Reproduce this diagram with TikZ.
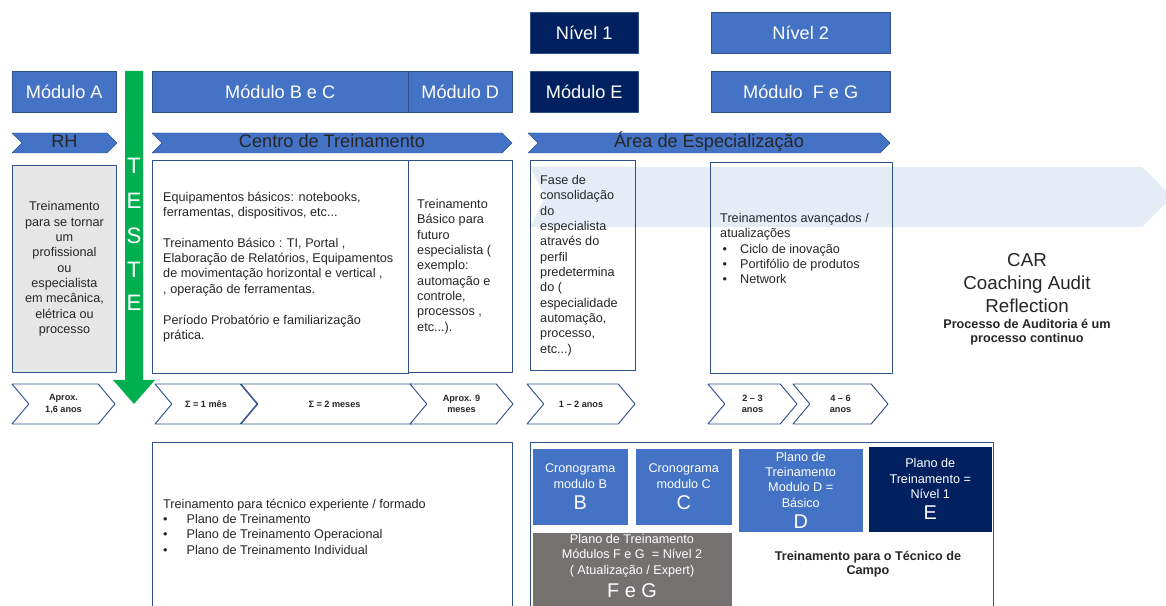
\documentclass[tikz,border=0pt]{standalone}
\usepackage{fontspec}
\setmainfont{Liberation Sans}
\usetikzlibrary{shapes.symbols}
\definecolor{blueA}{HTML}{4472C4}
\definecolor{navy}{HTML}{002060}
\definecolor{bordc}{HTML}{2F528F}
\definecolor{testegreen}{HTML}{00B050}
\definecolor{lgray}{HTML}{E7E6E6}
\definecolor{dgray}{HTML}{767171}
\definecolor{bandc}{HTML}{E6ECF6}
\definecolor{txtc}{HTML}{262626}
\newcommand\bodyfont{\fontsize{10.8}{13.1}\selectfont}
\newcommand\hdrfont{\fontsize{15.5}{18}\selectfont}
\newcommand\tinybold{\bfseries\fontsize{7.8}{9.6}\selectfont}
\newcommand\bigletter{\fontsize{17}{17}\selectfont}
\begin{document}
\begin{tikzpicture}[x=0.3mm,y=-0.3mm,line join=round,
	lvl/.style={draw=bordc,fill=blueA,text=white,font=\hdrfont,inner sep=0pt,anchor=north west,minimum height=41*\pxu},
	bandone/.style={shape=signal,signal from=west,signal to=east,signal pointer angle=90,draw=bordc,fill=blueA,text=txtc,font=\hdrfont,text height=11pt,text depth=3pt,inner sep=0pt,minimum height=20*\pxu},
	bandtwo/.style={shape=signal,signal from=west,signal to=east,signal pointer angle=100,draw=bordc,line width=0.8pt,fill=white,text=txtc,font=\tinybold,align=center,inner sep=0pt,minimum height=40*\pxu},
	cbox/.style={draw=bordc,line width=0.8pt,inner sep=0pt,anchor=north west},
	txt/.style={font=\bodyfont,text=txtc,align=left,inner sep=0pt},
	sub/.style={draw=white,fill=blueA,text=white,font=\bodyfont,align=center,inner sep=0pt,anchor=north west},
	teste/.style={text=white,font=\fontsize{19}{19}\selectfont,inner sep=0pt}]
	\def \pxu{0.3mm}
	\useasboundingbox (0,0) rectangle (1166,606);
	\clip (0,0) rectangle (1166,606);
	\fill[white] (0,0) rectangle (1166,606);
	% niveis e modulos
	\node[lvl,fill=navy,minimum width=108*\pxu] (niv1) at (530,12) {Nível 1};
	\node[lvl,minimum width=179*\pxu] (niv2) at (711,12) {Nível 2};
	\node[lvl,minimum width=104*\pxu] (modA) at (12,71) {Módulo A};
	\node[lvl,minimum width=256*\pxu] (modBC) at (152,71) {Módulo B e C};
	\node[lvl,minimum width=104*\pxu] (modD) at (408,71) {Módulo D};
	\node[lvl,fill=navy,minimum width=108*\pxu] (modE) at (530,71) {Módulo E};
	\node[lvl,minimum width=179*\pxu] (modFG) at (711,71) {Módulo~~F e G};
	% faixas
	\node[bandone,minimum width=105*\pxu] (rh) at (64.5,143) {RH};
	\node[bandone,minimum width=360*\pxu] (centro) at (332,143) {Centro de Treinamento};
	\node[bandone,minimum width=362*\pxu] (area) at (709,143) {Área de Especialização};
	% seta clara
	\fill[bandc] (530,167) -- (1142,167) -- (1172,197) -- (1142,227) -- (530,227) -- (545,197) -- cycle;
	% caixas de conteudo
	\node[cbox,fill=lgray,minimum width=104*\pxu,minimum height=207*\pxu,font=\bodyfont,text=txtc,align=center] (boxA) at (12,165) {Treinamento\\para se tornar\\um\\profissional\\ou\\especialista\\em mecânica,\\elétrica ou\\processo};
	\node[cbox,fill=white,minimum width=256*\pxu,minimum height=213*\pxu] (boxBC) at (152,160) {};
	\node[txt,anchor=west] (boxBCtxt) at ([xshift=11*\pxu]boxBC.west) {Equipamentos básicos: notebooks,\\ferramentas, dispositivos, etc...\\[13.1pt]Treinamento Básico : TI, Portal ,\\Elaboração de Relatórios, Equipamentos\\de movimentação horizontal e vertical ,\\, operação de ferramentas.\\[13.1pt]Período Probatório e familiarização\\prática.};
	\node[cbox,fill=white,minimum width=104*\pxu,minimum height=212*\pxu] (boxD) at (408,160) {};
	\node[txt,anchor=west] (boxDtxt) at ([xshift=9*\pxu]boxD.west) {Treinamento\\Básico para\\futuro\\especialista (\\exemplo:\\automação e\\controle,\\processos ,\\etc...).};
	\node[cbox,minimum width=105*\pxu,minimum height=210*\pxu] (boxE) at (530,160) {};
	\node[txt,anchor=west] (boxEtxt) at ([xshift=10*\pxu]boxE.west) {Fase de\\consolidação\\do\\especialista\\através do\\perfil\\predetermina\\do (\\especialidade\\automação,\\processo,\\etc...)};
	\node[cbox,minimum width=182*\pxu,minimum height=211*\pxu] (boxFG) at (710,162) {};
	\node[txt,anchor=north west] (boxFGtxt) at (720,213) {Treinamentos avançados /\\atualizações\\\hspace*{2pt}\makebox[15pt][l]{•}Ciclo de inovação\\\hspace*{2pt}\makebox[15pt][l]{•}Portifólio de produtos\\\hspace*{2pt}\makebox[15pt][l]{•}Network};
	% CAR
	\node[font=\fontsize{16}{19.5}\selectfont,text=txtc,align=center,inner sep=0pt] (car) at (1027,283) {CAR\\Coaching Audit\\Reflection};
	\node[font=\bfseries\fontsize{10.8}{12}\selectfont,text=txtc,align=center,inner sep=0pt] (audit) at (1027,332) {Processo de Auditoria é um\\processo continuo};
	% tempos
	\node[bandtwo,minimum width=103*\pxu] (t16) at (63.5,404) {Aprox.\\1,6 anos};
	\node[bandtwo,minimum width=102*\pxu] (t1m) at (206,404) {Σ = 1 mês};
	\node[bandtwo,minimum width=187*\pxu] (t2m) at (334.5,404) {Σ = 2 meses};
	\node[bandtwo,minimum width=103*\pxu] (t9m) at (461.5,404) {Aprox. 9\\meses};
	\node[bandtwo,minimum width=108*\pxu] (t12) at (581,404) {1 – 2 anos};
	\node[bandtwo,minimum width=89*\pxu] (t23) at (752.5,404) {2 – 3\\anos};
	\node[bandtwo,minimum width=95*\pxu] (t46) at (840.5,404) {4 – 6\\anos};
	% TESTE
	\fill[testegreen] (125,71) -- (143,71) -- (143,380) -- (155,380) -- (134,404) -- (113,380) -- (125,380) -- cycle;
	\foreach \l/\yy [count=\i] in {T/166,E/201,S/236,T/270,E/303}
		\node[teste] (teste\i) at (134,\yy) {\l};
	% planos
	\node[cbox,fill=white,minimum width=360*\pxu,minimum height=168*\pxu] (boxTec) at (152,442) {};
	\node[txt,anchor=west] (boxTectxt) at ([xshift=11*\pxu]boxTec.west) {Treinamento para técnico experiente / formado\\\makebox[20pt][l]{•}Plano de Treinamento\\\makebox[20pt][l]{•}Plano de Treinamento Operacional\\\makebox[20pt][l]{•}Plano de Treinamento Individual};
	\node[cbox,fill=white,minimum width=463*\pxu,minimum height=168*\pxu] (boxPlan) at (530,442) {};
	\node[sub,minimum width=96*\pxu,minimum height=77*\pxu] (cronB) at (532,448) {Cronograma\\modulo B\\[5pt]{\bigletter B}};
	\node[sub,minimum width=97*\pxu,minimum height=77*\pxu] (cronC) at (635,448) {Cronograma\\modulo C\\[5pt]{\bigletter C}};
	\node[sub,minimum width=125*\pxu,minimum height=84*\pxu] (planD) at (738,448) {Plano de\\Treinamento\\Modulo D =\\Básico\\[5pt]{\bigletter D}};
	\node[sub,fill=navy,minimum width=124*\pxu,minimum height=86*\pxu] (planE) at (868,446) {Plano de\\Treinamento =\\Nível 1\\[5pt]{\bigletter E}};
	\node[sub,fill=dgray,minimum width=200*\pxu,minimum height=80*\pxu] (planFG) at (532,532) {};
	\node[sub,fill=none,draw=none,anchor=center] (planFGtxt) at (632,566) {Plano de Treinamento\\Módulos F e G~~= Nível 2\\( Atualização / Expert)\\[5pt]{\bigletter F e G}};
	\node[font=\bfseries\fontsize{10.8}{12.5}\selectfont,text=txtc,align=center,inner sep=0pt] (campo) at (868,564) {Treinamento para o Técnico de\\Campo};
\end{tikzpicture}
\end{document}
